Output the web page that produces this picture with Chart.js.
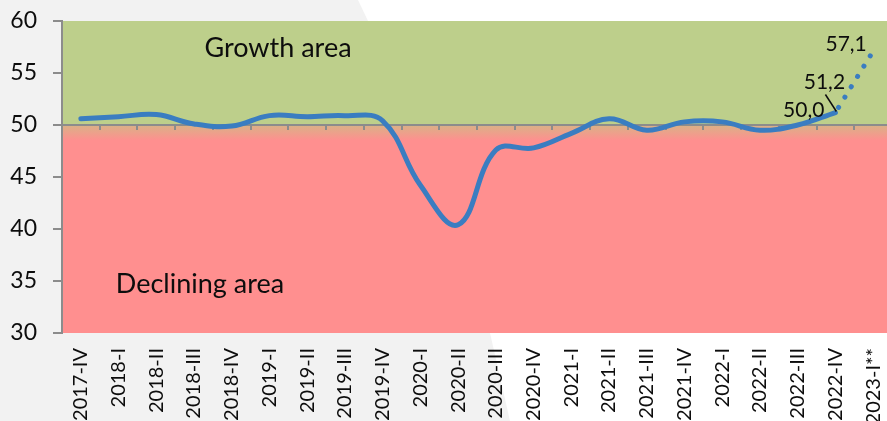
<!DOCTYPE html>
<html>
<head>
<meta charset="utf-8">
<script src="https://cdn.jsdelivr.net/npm/chart.js@4/dist/chart.umd.min.js"></script>
<style>
  html, body { margin: 0; padding: 0; overflow: hidden; background: #f2f2f2; }
  #wrap { width: 887px; height: 421px; overflow: hidden; }
</style>
</head>
<body>
<div id="wrap"><canvas id="indexChart" width="892" height="421"></canvas></div>
<script>
var quarters = ["2017-IV","2018-I","2018-II","2018-III","2018-IV","2019-I","2019-II","2019-III","2019-IV",
  "2020-I","2020-II","2020-III","2020-IV","2021-I","2021-II","2021-III","2021-IV",
  "2022-I","2022-II","2022-III","2022-IV","2023-I**"];
var actual = [50.6,50.8,51.0,50.1,49.9,50.9,50.8,50.9,50.4,44.2,40.4,47.6,47.8,49.2,50.6,49.5,50.3,50.3,49.5,50.0,51.2,null];
var forecast = [null,null,null,null,null,null,null,null,null,null,null,null,null,null,null,null,null,null,null,null,51.2,57.1];
var yTicks = [30,35,40,45,50,55,60];
var threshold = 50;

var fmt = function(v){ return v.toFixed(1).replace('.', ','); };

// page background, colored zones, the axis at 50 and the zone captions
var zones = {
  id: 'zones',
  beforeDraw: function(chart){
    var c = chart.ctx, a = chart.chartArea, y = chart.scales.y;
    c.save();
    c.fillStyle = '#f2f2f2';
    c.fillRect(0, 0, chart.width, chart.height);
    c.fillStyle = '#ffffff';
    c.beginPath();
    c.moveTo(358, 0); c.lineTo(chart.width, 0); c.lineTo(chart.width, chart.height);
    c.lineTo(510, chart.height); c.lineTo(490, 333); c.lineTo(368, 21);
    c.closePath(); c.fill();

    var y50 = y.getPixelForValue(threshold);
    c.fillStyle = '#bdcf8b';
    c.fillRect(a.left, a.top, a.right - a.left, y50 - a.top);
    c.fillStyle = '#ff8f8f';
    c.fillRect(a.left, y50, a.right - a.left, a.bottom - y50);
    var y2 = y.getPixelForValue(48.5);
    var g = c.createLinearGradient(0, y50, 0, y2);
    g.addColorStop(0, '#d9b287');
    g.addColorStop(1, '#ff8f8f');
    c.fillStyle = g;
    c.fillRect(a.left, y50, a.right - a.left, y2 - y50);
    c.restore();
  },
  beforeDatasetsDraw: function(chart){
    var c = chart.ctx, a = chart.chartArea, x = chart.scales.x, y = chart.scales.y;
    var y50 = y.getPixelForValue(threshold);
    c.save();
    c.strokeStyle = '#8c8c8c';
    c.lineWidth = 2;
    c.beginPath();
    c.moveTo(a.left, y50); c.lineTo(a.right, y50);
    for (var i = 0; i < quarters.length - 1; i++) {
      var bx = Math.round((x.getPixelForValue(i) + x.getPixelForValue(i + 1)) / 2);
      c.moveTo(bx, y50); c.lineTo(bx, y50 + 5);
    }
    c.stroke();
    c.fillStyle = '#0d0d0d';
    c.font = '27px Lato';
    c.textAlign = 'center';
    c.textBaseline = 'alphabetic';
    c.fillText('Growth area', 278, 57);
    c.fillText('Declining area', 200, 293);
    c.restore();
  },
  afterDatasetsDraw: function(chart){
    var c = chart.ctx, x = chart.scales.x, y = chart.scales.y;
    c.save();
    c.fillStyle = '#0d0d0d';
    c.font = '21px Lato';
    c.textAlign = 'center';
    var px, py;
    // 2022-III
    px = x.getPixelForValue(19); py = y.getPixelForValue(actual[19]);
    c.fillText(fmt(actual[19]), px + 6, py - 8);
    // 2022-IV with leader line
    px = x.getPixelForValue(20); py = y.getPixelForValue(forecast[20]);
    c.fillText(fmt(forecast[20]), px - 11, py - 24);
    c.strokeStyle = '#0d0d0d';
    c.lineWidth = 1.5;
    c.beginPath();
    c.moveTo(px - 10, py - 18); c.lineTo(px + 1, py - 1);
    c.stroke();
    // 2023-I forecast
    px = x.getPixelForValue(21); py = y.getPixelForValue(forecast[21]);
    c.fillText(fmt(forecast[21]), px - 27, py);
    c.restore();
  }
};

var ctx = document.getElementById('indexChart');
var chart = new Chart(ctx, {
  type: 'line',
  data: {
    labels: quarters,
    datasets: [
      {
        label: 'Index',
        data: actual,
        borderColor: '#3a7dc1',
        borderWidth: 5,
        tension: 0.4,
        pointRadius: 0,
        borderCapStyle: 'round'
      },
      {
        label: 'Forecast',
        data: forecast,
        borderColor: '#3a7dc1',
        borderWidth: 5,
        borderDash: [0.1, 12],
        borderDashOffset: -6,
        borderCapStyle: 'round',
        pointRadius: 0
      }
    ]
  },
  options: {
    responsive: false,
    animation: false,
    layout: { padding: 0 },
    plugins: { legend: { display: false }, tooltip: { enabled: false } },
    scales: {
      x: {
        offset: true,
        grid: { display: false },
        border: { display: false },
        ticks: {
          minRotation: 90, maxRotation: 90, autoSkip: false, padding: 7,
          color: '#0d0d0d', font: { family: 'Lato', size: 20 }
        },
        afterFit: function(s){ s.height = 88; s.paddingLeft = 0; s.paddingRight = 0; }
      },
      y: {
        min: 30, max: 60,
        afterBuildTicks: function(s){ s.ticks = yTicks.map(function(v){ return { value: v }; }); },
        grid: { drawOnChartArea: false, tickLength: 9, color: '#8c8c8c', lineWidth: 2 },
        border: { color: '#8c8c8c', width: 2 },
        ticks: { padding: 16, color: '#0d0d0d', font: { family: 'Lato', size: 23 } },
        afterFit: function(s){ s.width = 62; s.paddingTop = 21; s.paddingBottom = 0; }
      }
    }
  },
  plugins: [zones]
});
</script>
</body>
</html>
